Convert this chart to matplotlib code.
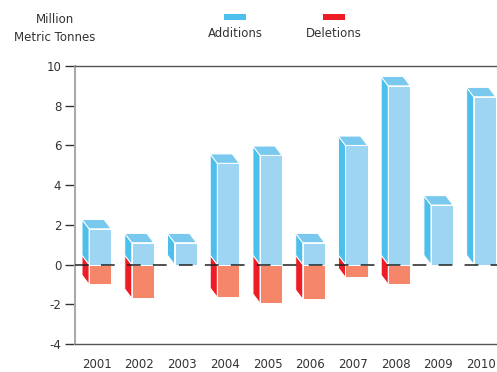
import numpy as np
import matplotlib.pyplot as plt
from matplotlib.patches import Polygon, Rectangle

years = ['2001', '2002', '2003', '2004', '2005', '2006', '2007', '2008', '2009', '2010']
additions = [1.8, 1.1, 1.1, 5.1, 5.5, 1.1, 6.0, 9.0, 3.0, 8.45]
deletions = [-1.0, -1.7, 0.0, -1.65, -1.95, -1.75, -0.65, -1.0, 0.0, 0.0]

blue_front = '#9dd5f2'
blue_side = '#4dbfec'
blue_top = '#79c9ef'
red_front = '#f6866a'
red_side = '#ee1c25'
text_col = '#333333'

plt.rcParams['font.family'] = 'DejaVu Sans'
plt.rcParams['font.size'] = 8.5
plt.rcParams['axes.unicode_minus'] = False

fig = plt.figure(figsize=(4.97, 3.72), dpi=100)
ax = fig.add_axes([0.151, 0.0753, 0.849, 0.7473])

# 3D bar geometry in data units
d = 0.165   # depth to the left
dy = 0.47   # depth upward
f0, f1 = -0.175, 0.34  # front face offsets from category centre


def draw_bar(x, v, front, side, top=None):
    xl, xr = x + f0, x + f1
    ax.add_patch(Polygon([(xl, 0), (xr, 0), (xr, v), (xl, v)], closed=True,
                         fc=front, ec='white', lw=0.7, zorder=2))
    ax.add_patch(Polygon([(xl - d, dy), (xl, 0), (xl, v), (xl - d, v + dy)], closed=True,
                         fc=side, ec='white', lw=0.7, zorder=2))
    if top is not None:
        ax.add_patch(Polygon([(xl, v), (xr, v), (xr - d, v + dy), (xl - d, v + dy)], closed=True,
                             fc=top, ec='white', lw=0.7, zorder=2))


for i in range(len(years)):
    if deletions[i] < 0:
        draw_bar(i, deletions[i], red_front, red_side)
    if additions[i] > 0:
        draw_bar(i, additions[i], blue_front, blue_side, blue_top)

ax.axhline(0, color='#222222', lw=1.1, ls=(0, (9, 8)), zorder=3)

ax.set_xlim(-0.503, 9.37)
ax.set_ylim(-4, 10)
ax.set_yticks(range(-4, 11, 2))
ax.set_xticks(range(len(years)))
ax.set_xticklabels(years)

ax.spines['right'].set_visible(False)
ax.spines['left'].set_color('#aaaaaa')
ax.spines['left'].set_linewidth(1.5)
ax.spines['top'].set_color('#555555')
ax.spines['bottom'].set_color('#555555')
ax.spines['top'].set_linewidth(1.0)
ax.spines['bottom'].set_linewidth(1.0)

ax.tick_params(axis='y', length=7, width=1.0, color='#333333', colors=text_col, pad=3)
ax.tick_params(axis='x', length=0, colors=text_col, pad=10)

# header text and legend
fig.text(0.111, 0.948, 'Million', ha='center', va='center', color=text_col, fontsize=8.5)
fig.text(0.111, 0.900, 'Metric Tonnes', ha='center', va='center', color=text_col, fontsize=8.5)

legend_items = [('Additions', blue_side, 0.473), ('Deletions', red_side, 0.672)]
for label, col, xc in legend_items:
    fig.patches.append(Rectangle((xc - 0.022, 0.946), 0.044, 0.016, transform=fig.transFigure,
                                 fc=col, ec='none', figure=fig))
    fig.text(xc, 0.910, label, ha='center', va='center', color=text_col, fontsize=8.5)

fig.savefig('out.png', dpi=100)
